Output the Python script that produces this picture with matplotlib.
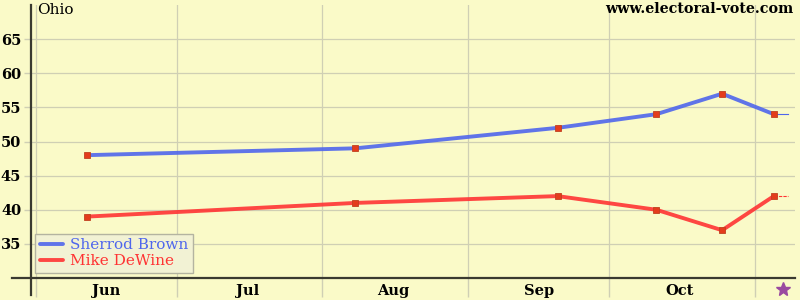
import matplotlib
matplotlib.use("Agg")
import matplotlib.pyplot as plt
import matplotlib.dates as mdates
from matplotlib.lines import Line2D
from datetime import datetime

# Data
dates = ["2006-06-12", "2006-08-08", "2006-09-20", "2006-10-11", "2006-10-25", "2006-11-05"]
brown = [48, 49, 52, 54, 57, 54]
dewine = [39, 41, 42, 40, 37, 42]
month_labels = ["Jun", "Jul", "Aug", "Sep", "Oct"]
y_ticks = [35, 40, 45, 50, 55, 60, 65]
election_day = "2006-11-07"

bg = "#fafac8"
grid_c = "#cfcfb4"
blue = "#4f66ec"
red = "#ff3333"
mk = "#e43c1c"

plt.rcParams['font.family'] = ['DejaVu Serif']

fig = plt.figure(figsize=(8, 3), dpi=100, facecolor=bg)
ax = fig.add_axes([31/800, 22/300, 764/800, 273/300])
ax.set_facecolor(bg)

x = [datetime.strptime(d, "%Y-%m-%d") for d in dates]
ax.plot(x, brown, color=blue, lw=2.8, alpha=0.9, solid_capstyle='round', zorder=3, label="Sherrod Brown")
ax.plot(x, dewine, color=red, lw=2.8, alpha=0.9, solid_capstyle='round', zorder=3, label="Mike DeWine")
ax.plot(x, brown, ls='none', marker='s', ms=5, mfc=mk, mec="#c04020", mew=0.6, zorder=4)
ax.plot(x, dewine, ls='none', marker='s', ms=5, mfc=mk, mec="#c04020", mew=0.6, zorder=4)

# little tails after last point
tail_end = datetime(2006, 11, 8)
ax.plot([x[-1], tail_end], [brown[-1], brown[-1]], color=blue, lw=0.8, zorder=2)
ax.plot([x[-1], tail_end], [dewine[-1], dewine[-1]], color=red, lw=0.8, ls=(0, (3, 1)), zorder=2)

ax.set_xlim(datetime(2006, 5, 31), datetime(2006, 11, 9, 12))
ax.set_ylim(30, 70)

# x ticks: month boundaries as major (gridlines), month centres as labels
ax.xaxis.set_major_locator(mdates.MonthLocator())
ax.xaxis.set_major_formatter(plt.NullFormatter())
mids = [datetime(2006, m, 16) for m in range(6, 11)]
ax.set_xticks(mids, minor=True)
ax.set_xticklabels(month_labels, minor=True, fontsize=10.5, fontweight='bold')
ax.tick_params(axis='x', which='major', length=14, color=grid_c, width=1)
ax.tick_params(axis='x', which='minor', length=0, pad=4)

ax.set_yticks(y_ticks)
ax.set_yticklabels([str(v) for v in y_ticks], fontsize=10.5, fontweight='bold')
ax.tick_params(axis='y', length=5, color=grid_c, width=1, pad=2)

ax.grid(True, which='major', color=grid_c, lw=0.9)
for s in ax.spines.values():
    s.set_visible(False)

# crosshair-like axes
fig.add_artist(Line2D([31/800, 31/800], [5/300, 295/300], transform=fig.transFigure, color="#3a3a30", lw=1.6))
fig.add_artist(Line2D([12/800, 795/800], [22/300, 22/300], transform=fig.transFigure, color="#3a3a30", lw=1.6))

# election star
ax.plot([datetime.strptime(election_day, "%Y-%m-%d")], [-0.04], transform=ax.get_xaxis_transform(), marker='*',
        ms=10, color="#9a4aa0", clip_on=False, ls='none')

fig.text(37/800, 1 - 3/300, "Ohio", ha='left', va='top', fontsize=11)
fig.text(793/800, 1 - 2/300, "www.electoral-vote.com", ha='right', va='top', fontsize=10.3, fontweight='bold')

leg = ax.legend(loc='lower left', bbox_to_anchor=(4/764, 5/273), frameon=True, fontsize=11,
                handlelength=1.5, borderpad=0.3, labelspacing=0.15, handletextpad=0.5, borderaxespad=0)
leg.get_frame().set_facecolor("#f2f2d4")
leg.get_frame().set_edgecolor("#b4b4a0")
leg.get_frame().set_boxstyle('square', pad=0)
leg.get_frame().set_alpha(1)
for t, c in zip(leg.get_texts(), [blue, red]):
    t.set_color(c)

fig.savefig("out.png", dpi=100, facecolor=bg)
